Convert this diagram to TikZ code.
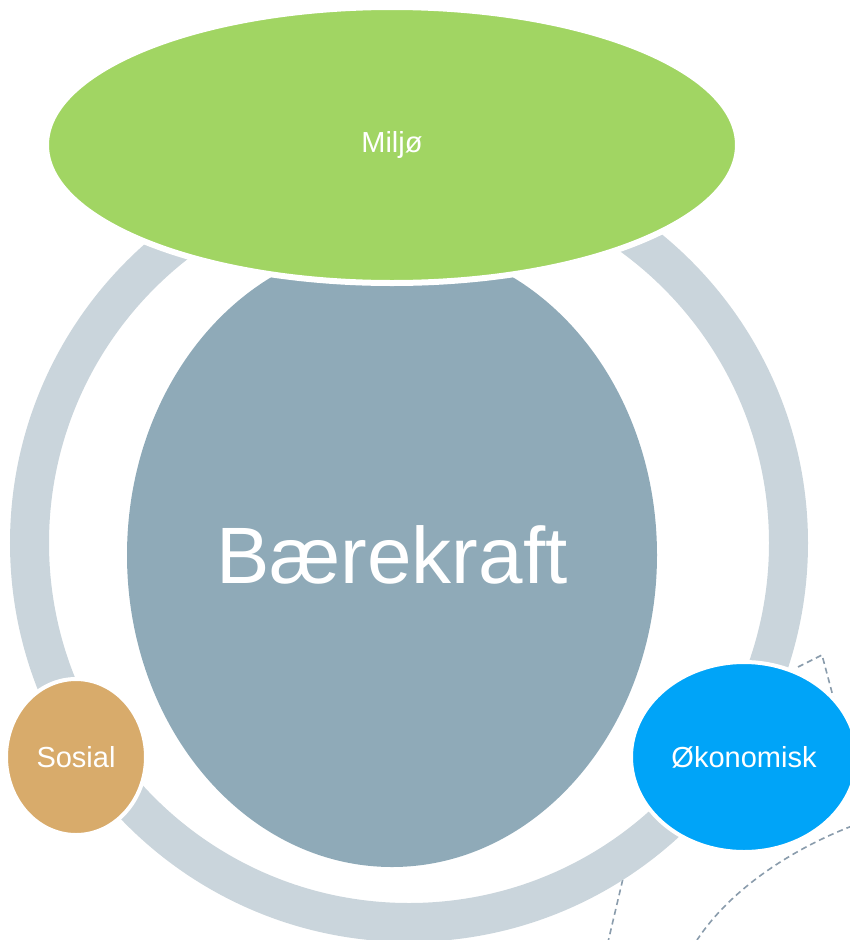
\documentclass[tikz,border=0pt]{standalone}
\usepackage{fontspec}
\setmainfont{Liberation Sans}
\usetikzlibrary{shapes.geometric}
\definecolor{ringc}{HTML}{CAD5DC}
\definecolor{corec}{HTML}{8FAAB8}
\definecolor{miljoc}{HTML}{A1D563}
\definecolor{sosialc}{HTML}{D8AB6B}
\definecolor{okoc}{HTML}{00A4F8}
\definecolor{dashc}{HTML}{8A9CAC}
\tikzset{
  blob/.style={ellipse, inner sep=0pt, text=white, font=\fontsize{29}{34}\selectfont},
  deco/.style={draw=dashc, line width=1.6pt, dash pattern=on 6pt off 4pt},
}
\begin{document}
\begin{tikzpicture}[x=1pt,y=-1pt]
\useasboundingbox (0,0) rectangle (849,940);
% decorative dashed lines
\coordinate (d1a) at (798,667);
\coordinate (d1b) at (822,655);
\coordinate (d1c) at (834,700);
\draw[deco] (d1a) -- (d1b) -- (d1c);
\coordinate (d2a) at (852,826);
\coordinate (d2b) at (697,940);
\draw[deco] (d2a) .. controls (790,850) and (730,890) .. (d2b);
\coordinate (d3a) at (625,870);
\coordinate (d3b) at (608,942);
\draw[deco] (d3a) -- (d3b);
% ring
\coordinate (rc) at (409,543);
\draw[ringc, line width=39pt] (rc) circle[radius=379.5];
% nodes
\node[blob, fill=corec, minimum width=530pt, minimum height=624pt,
      font=\fontsize{80}{90}\selectfont] (core) at (392,555) {Bærekraft};
\node[blob, fill=sosialc, draw=white, line width=4pt,
      minimum width=140pt, minimum height=156pt] (sosial) at (76,757) {Sosial};
\node[blob, fill=okoc, draw=white, line width=4pt,
      minimum width=226pt, minimum height=190pt] (oko) at (744,757) {Økonomisk};
\node[blob, fill=miljoc, draw=white, line width=6pt,
      minimum width=692pt, minimum height=276pt] (miljo) at (392,145) {Miljø};
\end{tikzpicture}
\end{document}
